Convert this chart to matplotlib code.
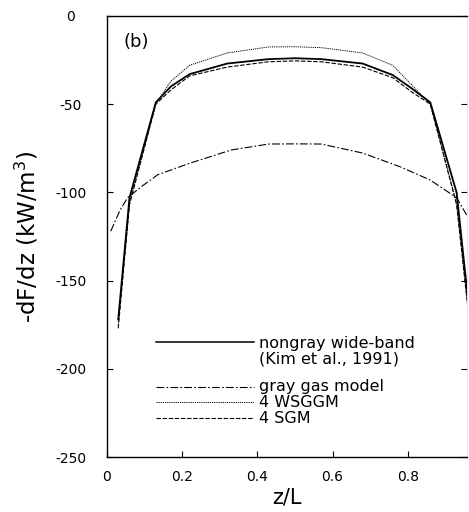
import matplotlib
matplotlib.use("Agg")
import matplotlib.pyplot as plt

# ---- data ----
x_main = [0.03, 0.06, 0.13, 0.17, 0.22, 0.32, 0.43, 0.50, 0.57, 0.68, 0.76, 0.81, 0.86, 0.93, 0.965]
nongray = [-172, -103, -49, -40, -33, -27, -24.5, -24, -24.5, -27, -33.5, -41, -49, -100, -170]
wsggm = [-175, -106, -50, -37, -28, -21, -17.6, -17.5, -18, -21, -28, -39, -50, -106, -175]
sgm = [-177, -107, -50, -42, -34, -29, -26, -25.5, -26, -29, -35, -43, -50, -107, -175]

x_gray = [0.01, 0.035, 0.055, 0.09, 0.135, 0.22, 0.33, 0.43, 0.50, 0.57, 0.68, 0.78, 0.86, 0.93, 0.96]
gray = [-122, -110, -103, -97, -90, -83.5, -76, -72.6, -72.5, -72.6, -77.7, -85.5, -93, -103, -114]

xticks = [0, 0.2, 0.4, 0.6, 0.8]
xticklabels = ["0", "0.2", "0.4", "0.6", "0.8"]
yticks = [0, -50, -100, -150, -200, -250]
yticklabels = ["0", "-50", "-100", "-150", "-200", "-250"]

labels = ["nongray wide-band\n(Kim et al., 1991)", "gray gas model", "4 WSGGM", "4 SGM"]

plt.rcParams['font.family'] = ['DejaVu Sans']

fig = plt.figure(figsize=(4.69, 5.12), dpi=100)
ax = fig.add_axes([0.228, 0.107, 0.768, 0.862])

ax.plot(x_main, nongray, color='black', lw=1.3, ls='-')
ax.plot(x_gray, gray, color='black', lw=0.8, ls=(0, (7, 2, 1.5, 2)))
ax.plot(x_main, wsggm, color='black', lw=0.7, ls=(0, (1.2, 1.0)))
ax.plot(x_main, sgm, color='black', lw=0.8, ls=(0, (4, 1.5)))

ax.set_xlim(0, 0.958)
ax.set_ylim(-250, 0)
ax.set_xticks(xticks)
ax.set_xticklabels(xticklabels)
ax.set_yticks(yticks)
ax.set_yticklabels(yticklabels, ha='center')
ax.tick_params(direction='in', length=4, width=0.8, labelsize=10, colors='black')
ax.tick_params(axis='y', pad=26, right=True)
ax.tick_params(axis='x', pad=9)
for s in ['left', 'bottom', 'top']:
    ax.spines[s].set_linewidth(1.0)
ax.spines['right'].set_color('#dddddd')
ax.spines['right'].set_linewidth(0.5)

ax.set_xlabel("z/L", fontsize=15, labelpad=3)
ax.set_ylabel("-dF/dz (kW/m$^3$)", fontsize=16.5, labelpad=11)

ax.text(0.045, -15, "(b)", fontsize=13, ha='left', va='center')

# legend drawn manually in axes data coordinates
leg_x0, leg_x1, leg_tx = 0.13, 0.39, 0.405
entries = [
    (-185, '-', 1.1, labels[0]),
    (-210, (0, (7, 2, 1.5, 2)), 0.8, labels[1]),
    (-219, (0, (1.2, 1.0)), 0.7, labels[2]),
    (-228, (0, (4, 1.5)), 0.8, labels[3]),
]
for y, ls, lw, lab in entries:
    ax.plot([leg_x0, leg_x1], [y, y], color='black', ls=ls, lw=lw)
    if "\n" in lab:
        ax.text(leg_tx, y + 3.5, lab, fontsize=11.5, ha='left', va='top', linespacing=1.05)
    else:
        ax.text(leg_tx, y, lab, fontsize=11.5, ha='left', va='center')

fig.savefig("out.png", dpi=100)
